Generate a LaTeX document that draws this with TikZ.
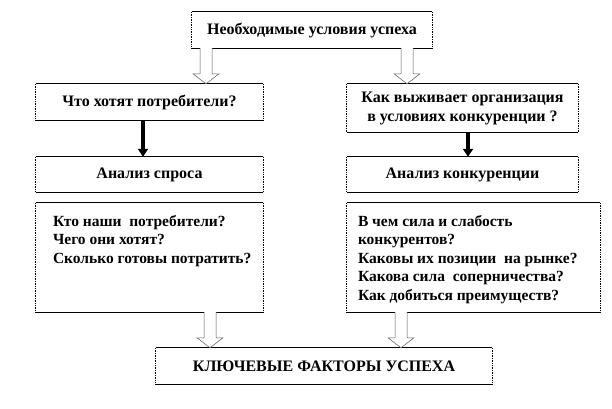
\documentclass[tikz,border=0pt]{standalone}
\usepackage{fontspec}
\setmainfont{Liberation Serif}
\usetikzlibrary{calc,arrows.meta}
\tikzset{
  boxn/.style={draw=none, fill=white, inner sep=0pt, align=center,
    font=\fontsize{16}{19}\selectfont\bfseries},
  txt/.style={inner sep=0pt, align=left, anchor=north west,
    font=\fontsize{15.5}{18.5}\selectfont\bfseries},
  hedge/.style={line width=0.7pt, black},
  vedge/.style={line width=0.7pt, black, densely dotted},
  hollow/.style={draw=gray!70!black, line width=0.5pt, fill=white},
  solidarr/.style={line width=3.5pt, -{Triangle[width=10pt,length=8pt]}}
}
\newcommand\fatarrow[3]{%
  \draw[hollow] let \p1=(#2.south), \p2=(#3.north) in
    (#1-6,\y1) -- (#1-6,\y2+10) -- (#1-13,\y2+10) -- (#1,\y2) --
    (#1+13,\y2+10) -- (#1+6,\y2+10) -- (#1+6,\y1);
}
\begin{document}
\begin{tikzpicture}[x=1pt,y=-1pt]
\useasboundingbox (0,0) rectangle (612,408);
\fill[white] (0,0) rectangle (612,408);

\node[boxn, minimum width=240pt, minimum height=36pt] (top) at (312,30) {Необходимые условия успеха};
\node[boxn, minimum width=227pt, minimum height=36pt] (q1) at (149.5,102) {Что хотят потребители?};
\node[boxn, minimum width=231pt, minimum height=48pt] (q2) at (462.5,108) {Как выживает организация\\в условиях конкуренции ?};
\node[boxn, minimum width=227pt, minimum height=35pt] (a1) at (149.5,174.5) {Анализ спроса};
\node[boxn, minimum width=231pt, minimum height=35pt] (a2) at (462.5,174.5) {Анализ конкуренции};
\node[boxn, minimum width=227pt, minimum height=109pt] (l1) at (149.5,257.5) {};
\node[boxn, minimum width=253pt, minimum height=109pt] (l2) at (473.5,257.5) {};
\node[boxn, minimum width=336pt, minimum height=36pt] (bot) at (324,366) {КЛЮЧЕВЫЕ ФАКТОРЫ УСПЕХА};

\foreach \n in {top,q1,q2,a1,a2,l1,l2,bot}{
  \draw[hedge] (\n.north west) -- (\n.north east);
  \draw[hedge] (\n.south west) -- (\n.south east);
  \draw[vedge] (\n.north west) -- (\n.south west);
  \draw[vedge] (\n.north east) -- (\n.south east);
}

\node[txt] (l1t) at ($(l1.north west)+(17,12)$) {Кто наши \ потребители?\\Чего они хотят?\\Сколько готовы потратить?};
\node[txt] (l2t) at ($(l2.north west)+(11,12)$) {В чем сила и слабость\\конкурентов?\\Каковы их позиции \ на рынке?\\Какова сила \ соперничества?\\Как добиться преимуществ?};

\fatarrow{206}{top}{q1}
\fatarrow{407}{top}{q2}
\fatarrow{210}{l1}{bot}
\fatarrow{401}{l2}{bot}

\draw[solidarr] (q1.south -| 143,0) -- (a1.north -| 143,0);
\draw[solidarr] (q2.south -| 468,0) -- (a2.north -| 468,0);
\end{tikzpicture}
\end{document}
